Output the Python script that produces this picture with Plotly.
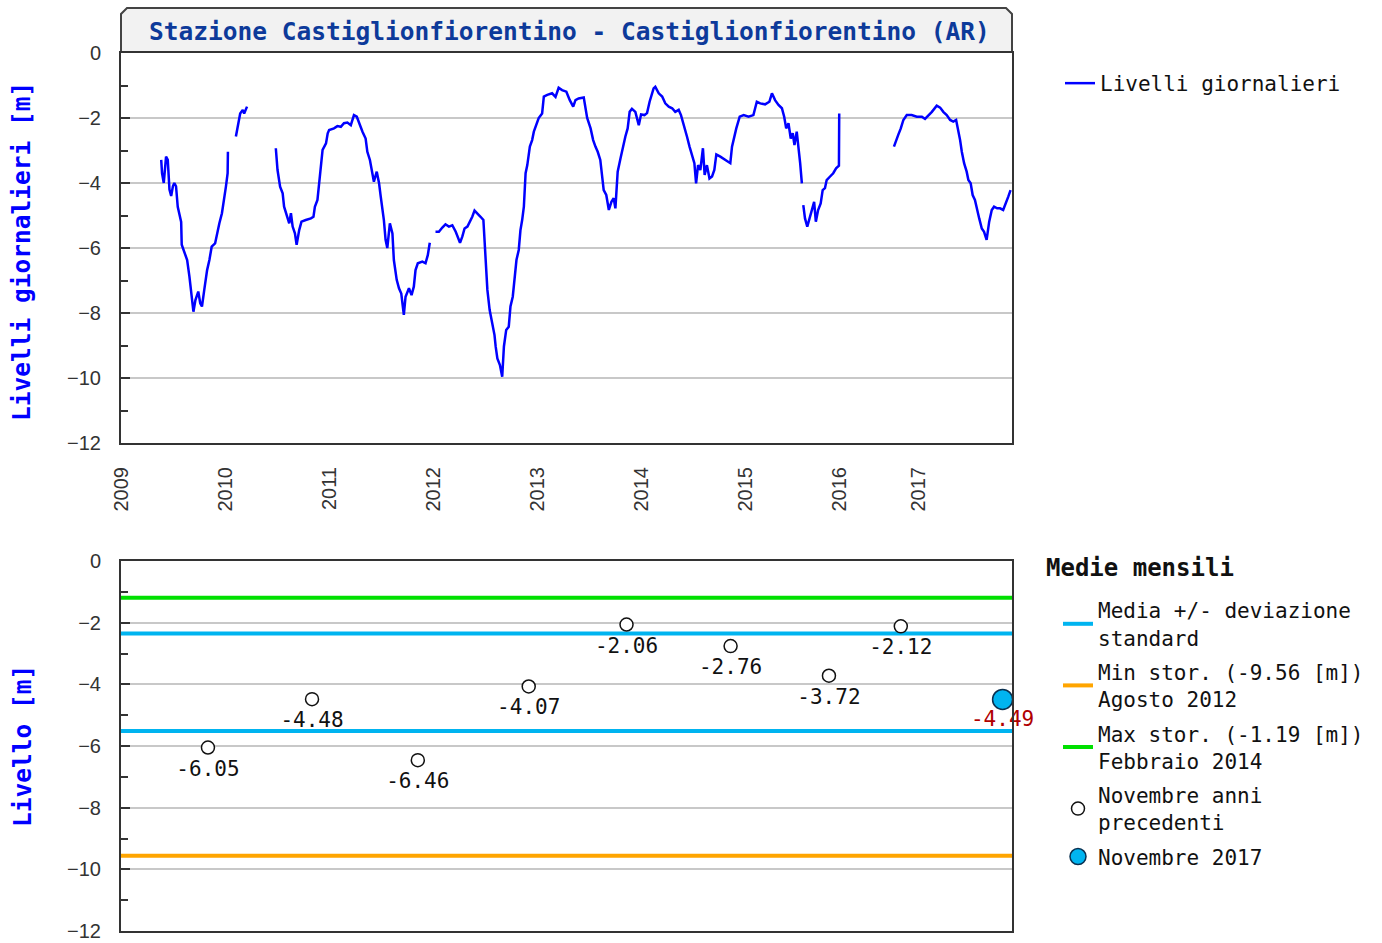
import plotly.graph_objects as go

TITOLO = "Stazione Castiglionfiorentino - Castiglionfiorentino (AR)"

# livelli giornalieri [m], tratti continui
giorni_1 = ["2009-05-21", "2009-05-24", "2009-05-30", "2009-06-07", "2009-06-13", "2009-06-19",
            "2009-06-25", "2009-07-01", "2009-07-06", "2009-07-12", "2009-07-18", "2009-07-30",
            "2009-08-01", "2009-08-10", "2009-08-20", "2009-08-28", "2009-09-03", "2009-09-11",
            "2009-09-18", "2009-09-28", "2009-10-05", "2009-10-11", "2009-10-19", "2009-10-29",
            "2009-11-06", "2009-11-14", "2009-11-26", "2009-12-03", "2009-12-11", "2009-12-20",
            "2009-12-28", "2010-01-03", "2010-01-09", "2010-01-10"]
livelli_1 = [-3.29, -3.70, -4.00, -3.19, -3.29, -4.20, -4.40, -4.10, -4.00, -4.10, -4.73, -5.20,
             -5.90, -6.15, -6.37, -6.88, -7.29, -7.96, -7.60, -7.34, -7.70, -7.80, -7.29, -6.68,
             -6.37, -5.96, -5.86, -5.55, -5.24, -4.93, -4.52, -4.11, -3.70, -3.04]

giorni_2 = ["2010-02-07", "2010-02-15", "2010-02-22", "2010-03-03", "2010-03-08", "2010-03-18"]
livelli_2 = [-2.57, -2.16, -1.86, -1.75, -1.86, -1.65]

giorni_3 = ["2010-06-27", "2010-07-03", "2010-07-12", "2010-07-21", "2010-07-26", "2010-08-05",
            "2010-08-13", "2010-08-19", "2010-08-25", "2010-09-02", "2010-09-08", "2010-09-17",
            "2010-09-25", "2010-10-10", "2010-10-28", "2010-11-06", "2010-11-11", "2010-11-20",
            "2010-11-26", "2010-12-02", "2010-12-08", "2010-12-20", "2010-12-26", "2010-12-31",
            "2011-01-17", "2011-01-29", "2011-02-10", "2011-02-21", "2011-03-05", "2011-03-17",
            "2011-03-28", "2011-04-07", "2011-04-15", "2011-04-27", "2011-05-08", "2011-05-14",
            "2011-05-23", "2011-06-01", "2011-06-06", "2011-06-16", "2011-06-24", "2011-06-30",
            "2011-07-06", "2011-07-11", "2011-07-17", "2011-07-23", "2011-08-01", "2011-08-10",
            "2011-08-15", "2011-08-25", "2011-09-02", "2011-09-10", "2011-09-19", "2011-09-25",
            "2011-10-07", "2011-10-16", "2011-10-24", "2011-10-30", "2011-11-07", "2011-11-23",
            "2011-12-04", "2011-12-12", "2011-12-19"]
livelli_3 = [-2.93, -3.60, -4.11, -4.32, -4.73, -5.04, -5.24, -4.93, -5.34, -5.55, -5.90, -5.45,
             -5.19, -5.14, -5.09, -5.04, -4.73, -4.52, -4.06, -3.60, -2.98, -2.78, -2.47, -2.37,
             -2.32, -2.25, -2.27, -2.16, -2.14, -2.22, -1.91, -1.96, -2.16, -2.42, -2.63, -3.04,
             -3.29, -3.80, -3.96, -3.65, -4.00, -4.42, -4.78, -5.14, -5.75, -6.00, -5.24, -5.55,
             -6.37, -6.98, -7.24, -7.40, -8.06, -7.50, -7.24, -7.45, -7.19, -6.68, -6.47, -6.42,
             -6.47, -6.22, -5.84]

giorni_4 = ["2012-01-08", "2012-01-20", "2012-02-01", "2012-02-12", "2012-02-24", "2012-03-07",
            "2012-03-19", "2012-03-25", "2012-04-03", "2012-04-11", "2012-04-19", "2012-04-29",
            "2012-05-08", "2012-05-16", "2012-05-24", "2012-06-03", "2012-06-14", "2012-06-24",
            "2012-06-28", "2012-07-02", "2012-07-08", "2012-07-16", "2012-07-25", "2012-08-02",
            "2012-08-06", "2012-08-12", "2012-08-21", "2012-08-29", "2012-09-04", "2012-09-12",
            "2012-09-21", "2012-09-27", "2012-10-05", "2012-10-11", "2012-10-18", "2012-10-26",
            "2012-11-01", "2012-11-07", "2012-11-13", "2012-11-19", "2012-11-25", "2012-12-04",
            "2012-12-12", "2012-12-18", "2012-12-28", "2013-01-04", "2013-01-16", "2013-01-22",
            "2013-02-03", "2013-02-20", "2013-03-04", "2013-03-15", "2013-03-27", "2013-04-11",
            "2013-04-23", "2013-05-05", "2013-05-13", "2013-05-24", "2013-06-11", "2013-06-17",
            "2013-06-23", "2013-07-05", "2013-07-14", "2013-07-22", "2013-07-30", "2013-08-08",
            "2013-08-14", "2013-08-20", "2013-08-29", "2013-09-07", "2013-09-16", "2013-09-24",
            "2013-09-30", "2013-10-08", "2013-10-18", "2013-10-27", "2013-11-04", "2013-11-12",
            "2013-11-19", "2013-11-27", "2013-12-09", "2013-12-21", "2013-12-29", "2014-01-10",
            "2014-01-19", "2014-01-28", "2014-02-11", "2014-02-17", "2014-03-01", "2014-03-13",
            "2014-03-24", "2014-04-05", "2014-04-17", "2014-04-28", "2014-05-10", "2014-05-18",
            "2014-05-27", "2014-06-08", "2014-06-17", "2014-06-26", "2014-07-04", "2014-07-10",
            "2014-07-17", "2014-07-25", "2014-08-03", "2014-08-09", "2014-08-17", "2014-08-26",
            "2014-09-04", "2014-09-12", "2014-09-19", "2014-10-03", "2014-10-20", "2014-11-07",
            "2014-11-13", "2014-11-21", "2014-11-28", "2014-12-10", "2014-12-24", "2015-01-10",
            "2015-01-27", "2015-02-08", "2015-02-20", "2015-03-09", "2015-03-24", "2015-04-02",
            "2015-04-13", "2015-04-25", "2015-05-07", "2015-05-15", "2015-05-22", "2015-05-30",
            "2015-06-07", "2015-06-14", "2015-06-20", "2015-06-28", "2015-07-04", "2015-07-10",
            "2015-07-16"]
livelli_4 = [-5.50, -5.50, -5.37, -5.27, -5.34, -5.30, -5.50, -5.65, -5.84, -5.65, -5.40, -5.34,
             -5.19, -5.04, -4.85, -4.93, -5.04, -5.14, -5.75, -6.58, -7.29, -7.91, -8.37, -8.68,
             -9.03, -9.40, -9.60, -9.96, -9.03, -8.52, -8.42, -7.80, -7.50, -6.98, -6.37, -6.06,
             -5.45, -5.14, -4.73, -3.70, -3.45, -2.88, -2.68, -2.42, -2.16, -2.00, -1.86, -1.34,
             -1.29, -1.24, -1.35, -1.07, -1.14, -1.19, -1.45, -1.65, -1.45, -1.40, -1.37, -1.65,
             -2.00, -2.32, -2.68, -2.88, -3.04, -3.29, -3.75, -4.22, -4.37, -4.83, -4.58, -4.47,
             -4.78, -3.65, -3.24, -2.83, -2.57, -2.32, -1.81, -1.72, -1.81, -2.22, -1.89, -1.91,
             -1.85, -1.50, -1.09, -1.04, -1.24, -1.34, -1.55, -1.65, -1.70, -1.81, -1.75, -1.91,
             -2.16, -2.57, -2.88, -3.14, -3.39, -4.01, -3.45, -3.60, -2.93, -3.75, -3.45, -3.86,
             -3.80, -3.60, -3.12, -3.19, -3.29, -3.39, -2.88, -2.57, -2.32, -1.96, -1.91, -1.96,
             -1.91, -1.50, -1.55, -1.58, -1.50, -1.24, -1.45, -1.60, -1.70, -1.96, -2.32, -2.16,
             -2.63, -2.47, -2.83, -2.42, -2.88, -3.39, -4.01]

giorni_5 = ["2015-08-28", "2015-09-03", "2015-09-11", "2015-09-20", "2015-09-30", "2015-10-05",
            "2015-10-11", "2015-10-19", "2015-10-28", "2015-11-04", "2015-11-12", "2015-11-18",
            "2015-11-30", "2015-12-11", "2015-12-21", "2015-12-31", "2016-01-01"]
livelli_5 = [-4.68, -5.09, -5.34, -5.04, -4.68, -4.58, -5.19, -4.83, -4.63, -4.22, -4.16, -3.91,
             -3.80, -3.70, -3.55, -3.47, -1.86]

giorni_6 = ["2016-10-08", "2016-10-15", "2016-10-23", "2016-11-01", "2016-11-10", "2016-11-22",
            "2016-12-09", "2016-12-27", "2017-01-14", "2017-01-25", "2017-02-06", "2017-02-18",
            "2017-03-07", "2017-03-19", "2017-03-30", "2017-04-11", "2017-04-23", "2017-05-04",
            "2017-05-14", "2017-05-22", "2017-05-28", "2017-06-03", "2017-06-11", "2017-06-20",
            "2017-06-26", "2017-07-04", "2017-07-11", "2017-07-19", "2017-07-27", "2017-08-03",
            "2017-08-12", "2017-08-20", "2017-08-29", "2017-09-07", "2017-09-16", "2017-09-24",
            "2017-10-05", "2017-10-15", "2017-10-26", "2017-11-05", "2017-11-13", "2017-11-21"]
livelli_6 = [-2.88, -2.68, -2.52, -2.32, -2.06, -1.91, -1.91, -1.96, -1.96, -2.03, -1.92, -1.81,
             -1.62, -1.68, -1.81, -1.91, -2.06, -2.11, -2.06, -2.37, -2.68, -3.04, -3.39, -3.65,
             -3.91, -4.01, -4.37, -4.52, -4.78, -5.09, -5.40, -5.50, -5.75, -5.19, -4.83, -4.73,
             -4.78, -4.78, -4.83, -4.63, -4.42, -4.22]

# periodi senza registrazioni, esclusi dall'asse
periodi_esclusi = [["2015-07-18", "2015-08-25"], ["2016-02-01", "2016-04-30"]]
intervallo_x = ["2008-12-31", "2017-11-26"]

# medie mensili di novembre
novembre_giorni = ["2009-11-01", "2010-11-01", "2011-11-07", "2012-11-30",
                   "2013-11-08", "2014-11-08", "2015-11-26", "2016-11-01"]
novembre_livelli = [-6.05, -4.48, -6.46, -4.07, -2.06, -2.76, -3.72, -2.12]
corrente_giorno = ["2017-10-24"]
corrente_livello = [-4.49]

media_piu_dev = -2.35
media_meno_dev = -5.51
min_stor = -9.56
max_stor = -1.19

BLU = "#0000ff"
CIANO = "#00b4f0"
ARANCIO = "#ffa500"
VERDE = "#00e000"
MONO = "DejaVu Sans Mono"

W, H = 1382, 943


def px_x(p):
    return p / W


def px_y(p):
    return 1 - p / H


x_daily, y_daily = [], []
for g, l in [(giorni_1, livelli_1), (giorni_2, livelli_2), (giorni_3, livelli_3),
             (giorni_4, livelli_4), (giorni_5, livelli_5), (giorni_6, livelli_6)]:
    x_daily += g + [None]
    y_daily += l + [None]

fig = go.Figure()

fig.add_trace(go.Scatter(
    x=x_daily, y=y_daily, mode="lines", name="Livelli giornalieri",
    line=dict(color=BLU, width=2.5), xaxis="x", yaxis="y", legend="legend",
))

x0, x1 = intervallo_x
fig.add_trace(go.Scatter(
    x=[x0, x1, None, x0, x1], y=[media_piu_dev, media_piu_dev, None, media_meno_dev, media_meno_dev],
    mode="lines", name="Media +/- deviazione<br>standard", legendgroup="a",
    line=dict(color=CIANO, width=4), xaxis="x2", yaxis="y2", legend="legend2",
))
fig.add_trace(go.Scatter(
    x=[x0, x1], y=[min_stor, min_stor], mode="lines", legendgroup="b",
    name=f"Min stor. ({min_stor:.2f} [m])<br>Agosto 2012",
    line=dict(color=ARANCIO, width=4), xaxis="x2", yaxis="y2", legend="legend2",
))
fig.add_trace(go.Scatter(
    x=[x0, x1], y=[max_stor, max_stor], mode="lines", legendgroup="c",
    name=f"Max stor. ({max_stor:.2f} [m])<br>Febbraio 2014",
    line=dict(color=VERDE, width=4), xaxis="x2", yaxis="y2", legend="legend2",
))
fig.add_trace(go.Scatter(
    x=novembre_giorni, y=novembre_livelli, mode="markers", name="Novembre anni<br>precedenti",
    legendgroup="d",
    marker=dict(symbol="circle", size=13, color="white", line=dict(color="#111", width=1.5)),
    xaxis="x2", yaxis="y2", legend="legend2",
))
# etichette sotto i punti (marker invisibile usato solo per la distanza del testo)
fig.add_trace(go.Scatter(
    x=novembre_giorni, y=novembre_livelli, mode="markers+text", showlegend=False,
    marker=dict(size=18, opacity=0),
    text=[f"{v:.2f}" for v in novembre_livelli], textposition="bottom center",
    textfont=dict(family=MONO, size=21, color="#111"),
    xaxis="x2", yaxis="y2", cliponaxis=False, hoverinfo="skip",
))
fig.add_trace(go.Scatter(
    x=corrente_giorno, y=corrente_livello, mode="markers", name="Novembre 2017", legendgroup="e",
    marker=dict(symbol="circle", size=20, color=CIANO, line=dict(color="#0a3050", width=1.5)),
    xaxis="x2", yaxis="y2", legend="legend2", cliponaxis=False,
))
fig.add_trace(go.Scatter(
    x=corrente_giorno, y=corrente_livello, mode="markers+text", showlegend=False,
    marker=dict(size=16, opacity=0),
    text=[f"{v:.2f}" for v in corrente_livello], textposition="bottom center",
    textfont=dict(family=MONO, size=21, color="#b00000"),
    xaxis="x2", yaxis="y2", cliponaxis=False, hoverinfo="skip",
))

tick_font = dict(family="Liberation Sans", size=20, color="#333")
asse_y = dict(
    range=[-12, 0], tick0=0, dtick=2, showgrid=True, gridcolor="#c8c8c8", gridwidth=2,
    zeroline=False, showline=True, linecolor="#333", linewidth=2, mirror=True,
    ticks="inside", ticklen=9, tickwidth=2, tickcolor="#333",
    minor=dict(dtick=1, ticks="inside", ticklen=7, tickwidth=2, tickcolor="#333", showgrid=False),
    tickfont=tick_font, ticklabelstandoff=14, fixedrange=True, automargin=False,
)
asse_x = dict(
    type="date", range=intervallo_x, rangebreaks=[dict(bounds=b) for b in periodi_esclusi],
    showgrid=False, zeroline=False, showline=True, linecolor="#333", linewidth=2, mirror=True,
    ticks="", fixedrange=True, automargin=False,
)

fig.update_layout(
    width=W, height=H, margin=dict(l=0, r=0, t=0, b=0, autoexpand=False),
    paper_bgcolor="white", plot_bgcolor="white",
    xaxis=dict(asse_x, domain=[px_x(121), px_x(1012)], anchor="y",
               tick0="2009-01-01", dtick="M12", tickformat="%Y", tickangle=-90,
               tickfont=tick_font, ticklabelstandoff=14),
    yaxis=dict(asse_y, domain=[px_y(443), px_y(53)], anchor="x"),
    xaxis2=dict(asse_x, domain=[px_x(121), px_x(1012)], anchor="y2", showticklabels=False),
    yaxis2=dict(asse_y, domain=[px_y(931), px_y(561)], anchor="x2"),
    legend=dict(x=px_x(1060), y=px_y(63), xanchor="left", yanchor="top",
                font=dict(family=MONO, size=21, color="#111"), bgcolor="rgba(0,0,0,0)"),
    legend2=dict(x=px_x(1058), y=px_y(590), xanchor="left", yanchor="top",
                 font=dict(family=MONO, size=21, color="#111"), bgcolor="rgba(0,0,0,0)",
                 tracegroupgap=4),
    shapes=[dict(
        type="path", xref="paper", yref="paper",
        path=(f"M {px_x(121)},{px_y(52)} L {px_x(121)},{px_y(14)} L {px_x(127)},{px_y(8)} "
              f"L {px_x(1006)},{px_y(8)} L {px_x(1012)},{px_y(14)} L {px_x(1012)},{px_y(52)} Z"),
        fillcolor="#f2f2f2", line=dict(color="#444", width=2), layer="below",
    )],
    annotations=[
        dict(text=TITOLO, xref="paper", yref="paper", x=px_x(569), y=px_y(31),
             xanchor="center", yanchor="middle", showarrow=False,
             font=dict(family=MONO, size=24.5, color="#0d3a9a", weight="bold")),
        dict(text="Livelli giornalieri [m]", xref="paper", yref="paper", x=px_x(22), y=px_y(252),
             textangle=-90, xanchor="center", yanchor="middle", showarrow=False,
             font=dict(family=MONO, size=24.5, color=BLU, weight="bold")),
        dict(text="Livello [m]", xref="paper", yref="paper", x=px_x(22), y=px_y(746),
             textangle=-90, xanchor="center", yanchor="middle", showarrow=False,
             font=dict(family=MONO, size=24.5, color=BLU, weight="bold")),
        dict(text="Medie mensili", xref="paper", yref="paper", x=px_x(1044), y=px_y(568),
             xanchor="left", yanchor="middle", showarrow=False,
             font=dict(family=MONO, size=24, color="#111", weight="bold")),
    ],
)

fig.write_html("out.html", config={"displayModeBar": False},
               post_script="document.body.style.margin='0';")
